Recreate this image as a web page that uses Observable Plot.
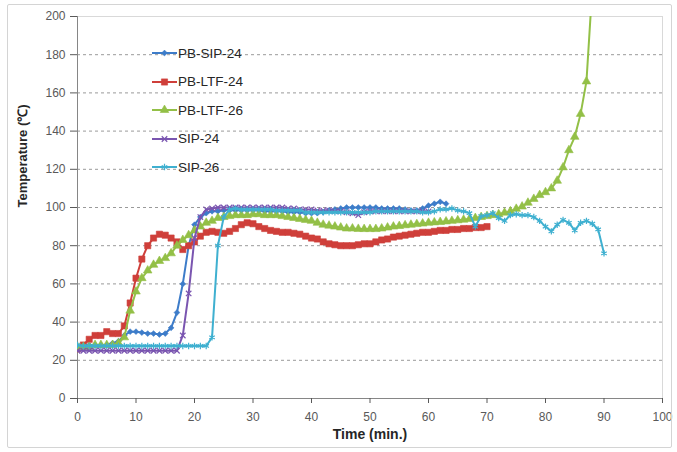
<!DOCTYPE html>
<html><head><meta charset="utf-8">
<script src="https://cdn.jsdelivr.net/npm/d3@7"></script>
<script src="https://cdn.jsdelivr.net/npm/@observablehq/plot@0.6"></script>
<style>
body{margin:0;background:#fff;}
#wrap{position:relative;width:677px;height:452px;font-family:"Liberation Sans",Arial,sans-serif;}
#border{position:absolute;left:7px;top:4px;width:663px;height:442px;border:1px solid #d4d4d4;border-radius:2px;pointer-events:none;}
#legend{position:absolute;left:152px;top:39px;}
.row{height:28.5px;display:flex;align-items:center;font-size:13.5px;color:#262626;}
.row svg{margin-right:1px;}
</style></head><body><div id="wrap"><div id="border"></div></div>
<script>
// values sampled every minute (index = time in min.)
const pbSip24 = [27,28,28,28,28,28,29,30,33,35,35,34.5,34,34,33.5,34,37,45,60,80,91,95,97,98,98,98.5,98.5,98.5,98.5,98.5,98.5,98.5,98,98,98,98,97.5,97.5,97.5,97,97,97,97.5,98.5,99,99.5,100,100,100,100,100,100,99.5,99.5,99.5,99.5,99,98.5,98.5,99.5,101,102,103,102];
const pbLtf24 = [26,28,31,33,33,35,34,34,38,50,63,73,80,84,86,85.5,84,82,78,80,82,85,87,87.5,87,86.5,87.5,89,91,92,91.5,90,89,88,87.5,87,87,86.5,86,85,84,83.5,82,81,80.5,80,80,80,80.5,81,81,82,83,83.5,84.5,85,85.5,86,86.5,87,87,87.5,88,88,88.5,88.5,89,89,89.5,89.5,90];
const pbLtf26 = [27,27,27,28,28,28,28,29,32,46,56,63,67,70,72,73.5,76,80,83,85.5,88,90,92,93,94.5,95,95.5,96,96,96,96.5,96.5,96,96,96,95.5,95,94.5,94,93.5,93,92,91,90.5,90,89.5,89,89,88.8,88.7,88.7,88.7,89,89.5,90,90.3,90.7,91,91.3,91.6,92,92.2,92.4,92.7,93,93.3,93.6,94,94.5,95,95.5,96,96.5,97.3,98,99.3,100.5,102.5,104.5,106.5,108,110,114,121,130,137,149,166,215];
const sip24 = [25,25,25,25,25,25,25,25,25,25,25,25,25,25,25,25,25,25,33,55,84,95,99,99.5,100,100,100,100,100,100,100,100,100,100,100,100,99.5,99.5,99,99,99,98.5,98.5,98.5,98,98,97.5,97,96,97.5,98,98,98,98,98,98,98,98,98,98,98];
const sip26 = [28,27.5,27.5,27.5,27.5,27.5,27.5,27.5,27.5,27.5,27.5,27.5,27.5,27.5,27.5,27.5,27.5,27.5,27.5,27.5,27.5,27.5,27.5,32,80,95,99,99.5,99,99,99,99,99,99,98.5,98.5,98.5,98.5,98.5,97.5,97.5,97.5,97.5,97.5,97.5,97.5,97.5,97.5,97.5,97.5,97.5,98,98,98,98,98,98,98,98,97.5,97.5,98,99,99,99.5,98.5,98,97,90,95.5,96,97,94.5,93,96,96.5,96,96,95,93,90,87.5,91,93.5,92,88,92,93,91.5,88.5,76];

const seriesNames = ["PB-SIP-24","PB-LTF-24","PB-LTF-26","SIP-24","SIP-26"];
const seriesValues = [pbSip24, pbLtf24, pbLtf26, sip24, sip26];
const xTicks = [0,10,20,30,40,50,60,70,80,90,100];
const yTicks = [0,20,40,60,80,100,120,140,160,180,200];

const styles = [
  {color:"#3d7cc9", symbol:"diamond2", r:2.6, filled:true},
  {color:"#cf3f3a", symbol:"square", r:3.5, filled:true},
  {color:"#93c047", symbol:"triangle", r:3.2, filled:true},
  {color:"#7a55b0", symbol:"times", r:2.6, filled:false},
  {color:"#3fb0d0", symbol:"asterisk", r:3, filled:false}
];

const seriesMarks = seriesNames.flatMap((name, k) => {
  const rows = seriesValues[k].map((v, i) => ({t: i, v}));
  const s = styles[k];
  return [
    Plot.line(rows, {x:"t", y:"v", stroke:s.color, strokeWidth:2, clip:true}),
    Plot.dot(rows, {x:"t", y:"v", symbol:s.symbol, r:s.r, fill: s.filled ? s.color : "none", stroke:s.color, strokeWidth: s.filled ? 0.6 : 1.2, clip:true})
  ];
});

const chart = Plot.plot({
  width: 677, height: 452,
  marginLeft: 77, marginRight: 15, marginTop: 16, marginBottom: 54,
  style: {fontFamily: '"Liberation Sans", Arial, sans-serif', fontSize: "12px", background: "transparent"},
  x: {domain: [0, 100]},
  y: {domain: [0, 200]},
  marks: [
    Plot.gridY(yTicks.slice(1, -1), {stroke:"#9a9a9a", strokeOpacity:1, strokeDasharray:"3,3"}),
    Plot.frame({stroke:"#d9d9d9"}),
    Plot.ruleX([0], {stroke:"#868686"}),
    Plot.ruleY([0], {stroke:"#868686"}),
    Plot.axisY({ticks: yTicks, tickSize: 7, tickPadding: 5, label: null, color: "#595959", fontSize: 12}),
    Plot.axisX({ticks: xTicks, tickSize: 5, tickPadding: 9, label: null, color: "#595959", fontSize: 12}),
    ...seriesMarks,
    Plot.text(["Time (min.)"], {frameAnchor:"bottom", dy: 40, fontWeight:"bold", fontSize: 14, fill:"#262626"}),
    Plot.text(["Temperature (\u2103)"], {frameAnchor:"left", dx: -55, rotate: -90, fontWeight:"bold", fontSize: 13, fill:"#262626"})
  ]
});
const wrap = document.getElementById("wrap");
wrap.insertBefore(chart, wrap.firstChild);

// legend
const legend = d3.select(wrap).append("div").attr("id", "legend");
const symMap = {diamond2: d3.symbolDiamond2, square: d3.symbolSquare, triangle: d3.symbolTriangle, times: d3.symbolTimes, asterisk: d3.symbolAsterisk};
seriesNames.forEach((name, k) => {
  const s = styles[k];
  const row = legend.append("div").attr("class", "row");
  const svg = row.append("svg").attr("width", 25).attr("height", 12);
  svg.append("line").attr("x1", 0).attr("x2", 25).attr("y1", 6).attr("y2", 6).attr("stroke", s.color).attr("stroke-width", 2);
  svg.append("path").attr("transform", "translate(12.5,6)")
    .attr("d", d3.symbol(symMap[s.symbol], s.r * s.r * Math.PI)())
    .attr("fill", s.filled ? s.color : "none").attr("stroke", s.color).attr("stroke-width", s.filled ? 0.6 : 1.2);
  row.append("span").text(name);
});
</script>
</body></html>
